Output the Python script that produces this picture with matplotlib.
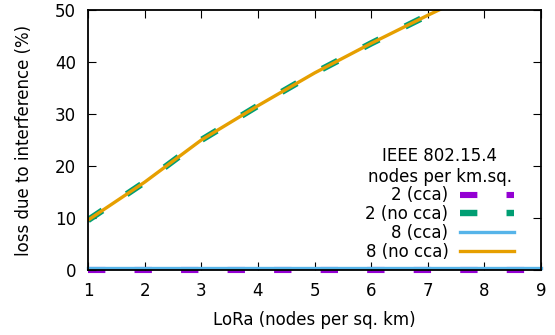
import matplotlib
matplotlib.use("Agg")
import matplotlib.pyplot as plt

# LoRa density (nodes per sq. km)
lora = [1, 2, 3, 4, 5, 6, 7, 8, 9]

# loss due to interference (%) for IEEE 802.15.4 densities
loss_2_cca = [0, 0, 0, 0, 0, 0, 0, 0, 0]
loss_2_nocca = [9.6, 16.9, 25.0, 31.6, 37.9, 43.6, 49.0, 54.2, 59.2]
loss_8_cca = [0.3, 0.3, 0.3, 0.3, 0.3, 0.3, 0.3, 0.3, 0.3]
loss_8_nocca = [9.6, 16.9, 25.0, 31.6, 37.9, 43.6, 49.0, 54.2, 59.2]

labels = ["2 (cca)", "2 (no cca)", "8 (cca)", "8 (no cca)"]
xticks = [1, 2, 3, 4, 5, 6, 7, 8, 9]
yticks = [0, 10, 20, 30, 40, 50]

plt.rcParams['font.family'] = ['DejaVu Sans']
plt.rcParams['font.size'] = 12
plt.rcParams['lines.scale_dashes'] = False

fig = plt.figure(figsize=(5.55, 3.35), dpi=100)
ax = fig.add_axes([0.1586, 0.194, 0.8164, 0.776])

dash = (0, (12.5, 21))
ax.plot(lora, loss_2_cca, color='#9400D3', lw=4.4, linestyle=dash,
        label=labels[0], clip_on=False, zorder=1)
ax.plot(lora, loss_2_nocca, color='#009E73', lw=4.6, linestyle=dash,
        label=labels[1], zorder=2)
ax.plot(lora, loss_8_cca, color='#56B4E9', lw=2.4, label=labels[2],
        clip_on=False, zorder=3)
ax.plot(lora, loss_8_nocca, color='#E69F00', lw=2.4, label=labels[3],
        zorder=4)

ax.set_xlim(1, 9)
ax.set_ylim(0, 50)
ax.set_xticks(xticks)
ax.set_yticks(yticks)
ax.tick_params(direction='in', length=5.8, top=True, right=True, pad=8.5)
for s in ax.spines.values():
    s.set_linewidth(1.3)
    s.set_zorder(5)

ax.set_xlabel("LoRa (nodes per sq. km)", labelpad=8)
ax.set_ylabel("loss due to interference (%)", labelpad=16)

leg = ax.legend(title="IEEE 802.15.4\nnodes per km.sq.", frameon=False,
                markerfirst=False, loc='upper right',
                bbox_to_anchor=(0.958, 0.506), borderpad=0,
                handlelength=3.2, handletextpad=0.72, labelspacing=0.05,
                alignment='center', fontsize=12, title_fontsize=12)
leg.get_title().set_multialignment('center')

fig.savefig("out.png", dpi=100)
